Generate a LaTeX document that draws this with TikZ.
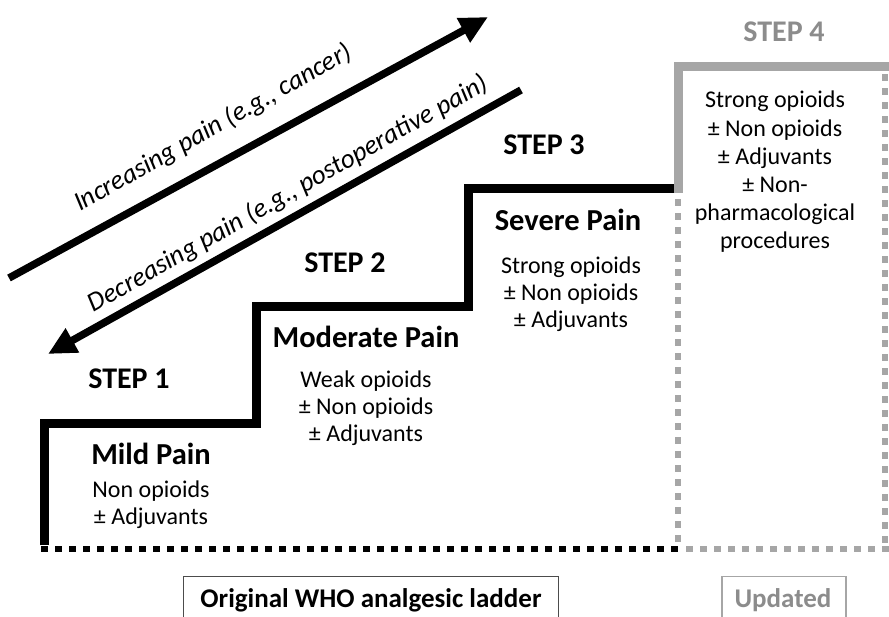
\documentclass[tikz,border=0pt]{standalone}
\usepackage{fontspec}
\setmainfont{Carlito}
\usetikzlibrary{arrows.meta}
\definecolor{ladder}{HTML}{000000}
\definecolor{upgray}{HTML}{A6A6A6}
\definecolor{uptext}{HTML}{8C8C8C}
\tikzset{
  stair/.style={line width=9pt, draw=ladder, line join=miter},
  upstair/.style={line width=9pt, draw=upgray, line join=miter},
  floor/.style={line width=6pt, draw=ladder, dash pattern=on 7pt off 7pt},
  upfloor/.style={line width=6pt, draw=upgray, dash pattern=on 7pt off 7pt},
  painarrow/.style={line width=7.5pt, -{Triangle[length=28pt,width=26pt]}},
  steplabel/.style={font=\fontsize{30}{34}\selectfont\bfseries, inner sep=0pt},
  painlabel/.style={font=\fontsize{30.5}{34}\selectfont\bfseries, inner sep=0pt},
  druglist/.style={font=\fontsize{24}{27}\selectfont, align=center, inner sep=0pt},
  slope/.style={font=\fontsize{27}{30}\selectfont\itshape, rotate=29.5, inner sep=0pt},
  caption/.style={draw, line width=1.2pt, inner sep=0pt, minimum height=60pt, anchor=north},
  captext/.style={font=\fontsize{27}{30}\selectfont\bfseries, inner sep=0pt},
}
\begin{document}
\begin{tikzpicture}[x=1pt, y=-1pt]
\useasboundingbox (0,0) rectangle (889,616);
\begin{scope}
\clip (0,0) rectangle (889,616);

% ladder of the original three steps
\coordinate (base1) at (44,545);
\coordinate (s1) at (44,423);
\coordinate (s1e) at (256,423);
\coordinate (s2) at (256,306);
\coordinate (s2e) at (468,306);
\coordinate (s3) at (468,188);
\coordinate (s3e) at (682,188);
\draw[stair] (base1) -- (s1) -- (s1e) -- (s2) -- (s2e) -- (s3) -- (s3e);

% fourth step
\coordinate (s4) at (678,66);
\coordinate (s4e) at (895,66);
\draw[upstair] (678,192.5) -- (s4) -- (s4e);
\coordinate (upl) at (678,199);
\coordinate (upbl) at (678,549);
\coordinate (upr) at (885,74);
\coordinate (upbr) at (885,549);
\draw[upfloor] (upl) -- (upbl);
\draw[upfloor] (upr) -- (upbr);

% floor
\coordinate (f0) at (41,549);
\coordinate (f1) at (678,549);
\coordinate (f2) at (892,549);
\draw[floor] (f0) -- (f1);
\draw[upfloor] ([xshift=8pt]f1) -- (f2);

% pain direction arrows
\coordinate (inc0) at (9,278);
\coordinate (inc1) at (488,17);
\draw[painarrow] (inc0) -- (inc1);
\coordinate (dec0) at (521,90);
\coordinate (dec1) at (48,354);
\draw[painarrow] (dec0) -- (dec1);
\node[slope] (inclab) at (213,128) {Increasing pain (e.g., cancer)};
\node[slope] (declab) at (288,194) {Decreasing pain (e.g., postoperative pain)};

% step titles
\node[steplabel] (st1) at (129,379) {STEP 1};
\node[steplabel] (st2) at (345,263) {STEP 2};
\node[steplabel] (st3) at (544,145) {STEP 3};
\node[steplabel, text=uptext] (st4) at (784,32) {STEP 4};

% pain levels
\node[painlabel] (p1) at (151,454) {Mild Pain};
\node[painlabel] (p2) at (366,337) {Moderate Pain};
\node[painlabel] (p3) at (568,220) {Severe Pain};

% treatments
\node[druglist, anchor=north] (d1) at (151,481) {Non opioids\\ ± Adjuvants};
\node[druglist, anchor=north] (d2) at (366,371) {Weak opioids\\ ± Non opioids\\ ± Adjuvants};
\node[druglist, anchor=north] (d3) at (571,257) {Strong opioids\\ ± Non opioids\\ ± Adjuvants};
\node[druglist, anchor=north, font=\fontsize{24}{28.2}\selectfont] (d4) at (775,91) {Strong opioids\\ ± Non opioids\\ ± Adjuvants\\ ± Non-\\ pharmacological\\ procedures};

% captions
\node[caption, draw=black!70, minimum width=375pt] (orig) at (371,576) {};
\node[captext] (origt) at (371,600) {Original WHO analgesic ladder};
\node[caption, draw=upgray, minimum width=124pt] (upd) at (784,576) {};
\node[captext, text=uptext] (updt) at (783,600) {Updated};
\end{scope}
\end{tikzpicture}
\end{document}
